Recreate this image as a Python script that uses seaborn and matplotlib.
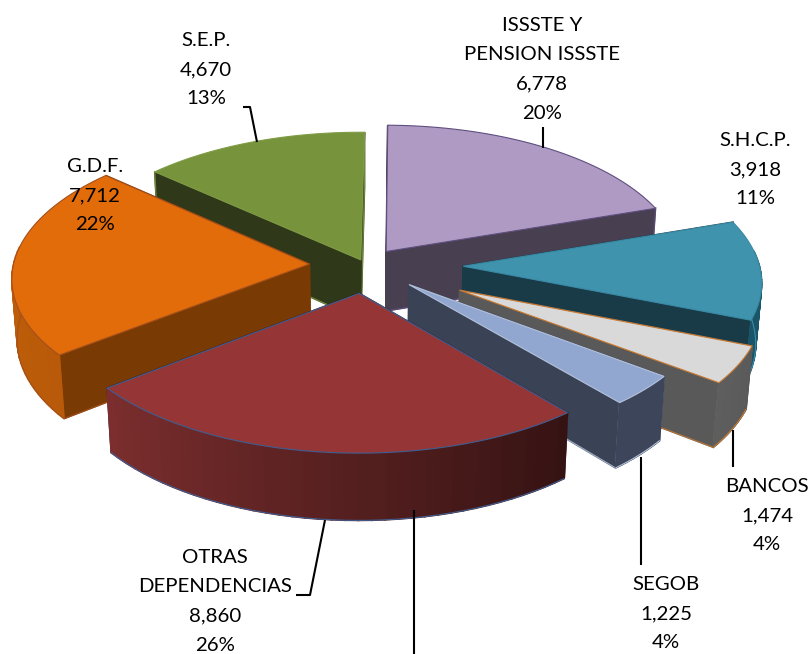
import numpy as np
import matplotlib
matplotlib.use("Agg")
import matplotlib.pyplot as plt
import seaborn as sns

names = ["ISSSTE Y\nPENSION ISSSTE", "S.H.C.P.", "BANCOS", "SEGOB",
         "OTRAS\nDEPENDENCIAS", "G.D.F.", "S.E.P."]
values = [6778, 3918, 1474, 1225, 8860, 7712, 4670]
explode = [0.12, 0.33, 0.36, 0.20, 0.20, 0.19, 0.04]

top_colors = ["#AF9AC3", "#3F93AD", "#D9D9D9", "#91A7D0", "#953535", "#E26B0A", "#77933C"]
cut_colors = ["#483F50", "#193B47", "#595959", "#3A4356", "#3A1514", "#7A3A04", "#2F3818"]
# outer wall goes from first colour to second, clockwise
rim_colors = [("#483F50", "#483F50"), ("#1C5D72", "#1A5468"), ("#5A5A5A", "#5E5E5E"),
              ("#3C4559", "#3C4559"), ("#361313", "#7C2E2E"), ("#B85A09", "#C9650B"),
              ("#2F3818", "#2F3818")]
edge_colors = ["#5F4F80", "#3A8AA5", "#C9792F", "#B4C2DC", "#3F5E92", "#A5501C", "#7F9C45"]

label_pos = [(542, 68), (755, 168), (767, 514), (666, 612), (215, 600), (95, 194), (206, 68)]
leaders = [
    ([243, 250, 257], [107, 107, 142]),
    ([543, 543], [127, 148]),
    ([733, 733], [467, 430]),
    ([641, 641], [565, 457]),
    ([296, 310, 325], [595, 595, 520]),
    ([414, 414], [654, 510]),
]
LINE_STEP = 29.4

# projection of the tilted pie, fitted on the picture
CX, CY = 365.5, 265
BX, BY = 296, 140
PERSP = 0.09
HEIGHT = 60
START = 0.7


def project(x, y, z=0.0):
    w = 1 + PERSP * np.asarray(y)
    return CX + BX * np.asarray(x) / (w + 0.015 * z), CY - BY * np.asarray(y) / w + HEIGHT * z / w


sns.set_theme(style="white")
plt.rcParams["font.family"] = ["Lato", "DejaVu Sans"]

fig = plt.figure(figsize=(8.11, 6.54), dpi=100)
ax = fig.add_axes([0, 0, 1, 1])
ax.set_xlim(0, 811)
ax.set_ylim(654, 0)
ax.axis("off")

total = sum(values)
edges = np.radians(START + np.concatenate([[0], np.cumsum(values)]) / total * 360)
mids = (edges[:-1] + edges[1:]) / 2

# back slices first
order = sorted(range(len(values)), key=lambda i: -(1 + explode[i]) * np.cos(mids[i]))

for i in order:
    z_level = 2 + order.index(i)
    ox, oy = explode[i] * np.sin(mids[i]), explode[i] * np.cos(mids[i])
    th = np.linspace(edges[i], edges[i + 1], 40)
    ax_x, ax_y = ox + np.sin(th), oy + np.cos(th)
    rim_pal = sns.blend_palette(rim_colors[i], n_colors=len(th) - 1)

    faces = []
    for k in (0, -1):
        qx = [ox, ax_x[k], ax_x[k], ox]
        qy = [oy, ax_y[k], ax_y[k], oy]
        faces.append((oy / 2 + ax_y[k] / 2, qx, qy, True, cut_colors[i]))
    for k in range(len(th) - 1):
        # the back of the rim is never seen
        if np.cos(th[k]) > 0.1 and np.cos(th[k + 1]) > 0.1:
            continue
        qx = [ax_x[k], ax_x[k + 1], ax_x[k + 1], ax_x[k]]
        qy = [ax_y[k], ax_y[k + 1], ax_y[k + 1], ax_y[k]]
        faces.append(((ax_y[k] + ax_y[k + 1]) / 2, qx, qy, False, rim_pal[k]))

    qz = np.array([0, 0, 1, 1])
    for _, qx, qy, is_cut, col in sorted(faces, key=lambda f: -f[0]):
        sx, sy = project(np.array(qx), np.array(qy), qz)
        ax.fill(sx, sy, color=col, lw=1.2, zorder=z_level)
        if is_cut:
            ax.plot(sx[1:4], sy[1:4], color=edge_colors[i], lw=0.9, alpha=0.8, zorder=z_level)

    # rim bottom edge, front part only
    front = np.cos(th) < 0.1
    if front.any():
        sx, sy = project(ax_x[front], ax_y[front], 1.0)
        ax.plot(sx, sy, color=edge_colors[i], lw=0.8, zorder=z_level)

    tx, ty = project(np.r_[ox, ax_x, ox], np.r_[oy, ax_y, oy])
    ax.fill(tx, ty, facecolor=top_colors[i], edgecolor=edge_colors[i], lw=0.8, zorder=z_level)

for xs, ys in leaders:
    ax.plot(xs, ys, color="black", lw=1.5, zorder=30, solid_capstyle="butt")

for name, val, (lx, ly) in zip(names, values, label_pos):
    pct = round(100 * val / total)
    lines = f"{name}\n{val:,}\n{pct}%".split("\n")
    for j, line in enumerate(lines):
        ax.text(lx, ly + 7 + (j - (len(lines) - 1) / 2) * LINE_STEP, line, ha="center",
                va="baseline", fontsize=14.7, color="black", zorder=40)

sns.despine(ax=ax, left=True, bottom=True)
fig.savefig("out.png", dpi=100)
